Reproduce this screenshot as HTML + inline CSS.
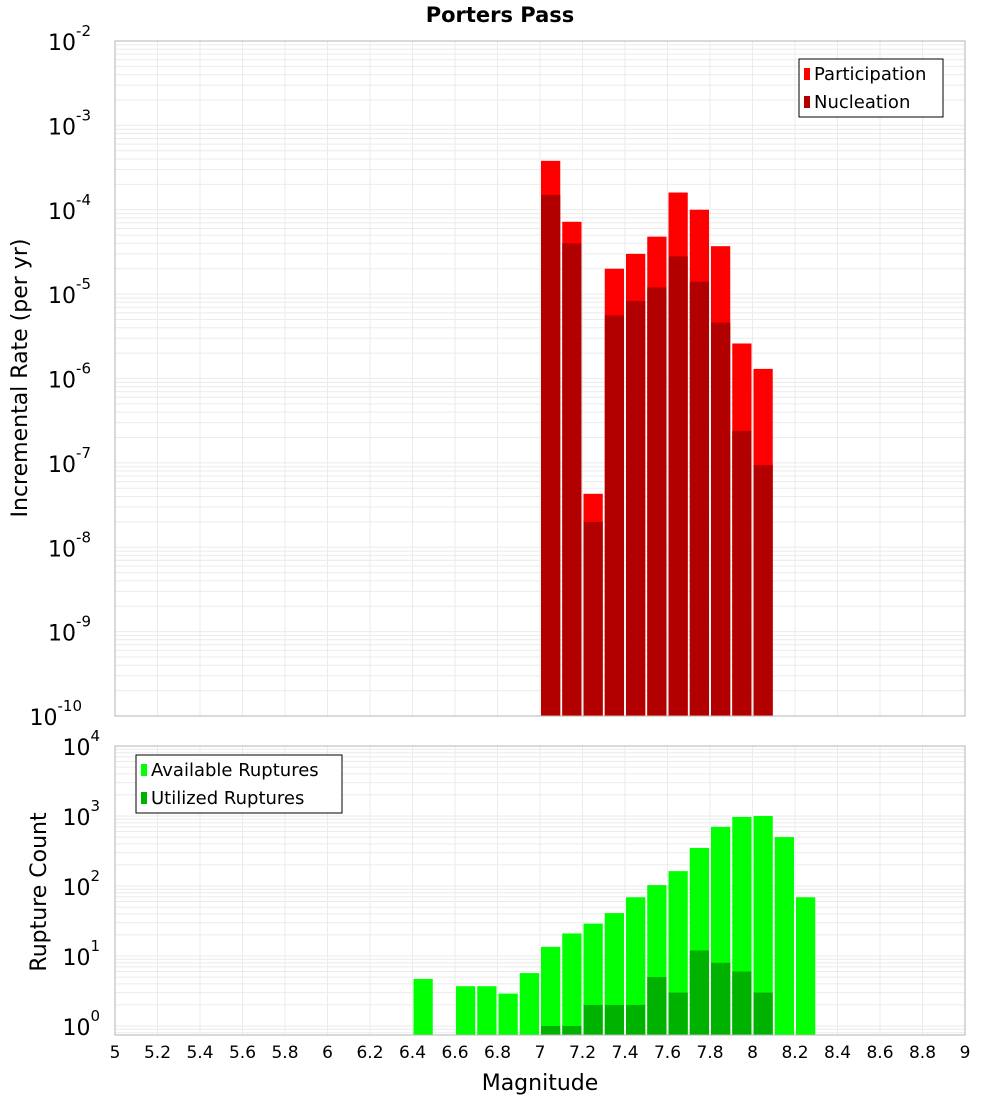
<!DOCTYPE html>
<html><head><meta charset="utf-8"><style>
body{margin:0;background:#fff;font-family:"Liberation Sans","DejaVu Sans",sans-serif}
</style></head><body>
<svg id="c" width="1000" height="1100" xmlns="http://www.w3.org/2000/svg" font-family="DejaVu Sans, Liberation Sans, sans-serif"></svg>
<script>
const mags=[7.0,7.1,7.2,7.3,7.4,7.5,7.6,7.7,7.8,7.9,8.0];
const participation=[3.8e-4,7.2e-5,4.3e-8,2.0e-5,3.0e-5,4.8e-5,1.6e-4,1.0e-4,3.7e-5,2.6e-6,1.3e-6];
const nucleation=[1.5e-4,4.0e-5,2.0e-8,5.6e-6,8.3e-6,1.2e-5,2.8e-5,1.4e-5,4.6e-6,2.4e-7,9.4e-8];
const availMags=[6.4,6.6,6.7,6.8,6.9,7.0,7.1,7.2,7.3,7.4,7.5,7.6,7.7,7.8,7.9,8.0,8.1,8.2];
const available=[4.7,3.7,3.7,2.9,5.7,13.5,21,29,41,69,103,163,350,700,970,1000,500,69];
const utilMags=[7.0,7.1,7.2,7.3,7.4,7.5,7.6,7.7,7.8,7.9,8.0];
const utilized=[1,1,2,2,2,5,3,12,8,6,3];
const xTicks=[5,5.2,5.4,5.6,5.8,6,6.2,6.4,6.6,6.8,7,7.2,7.4,7.6,7.8,8,8.2,8.4,8.6,8.8,9];
const topExps=[-2,-3,-4,-5,-6,-7,-8,-9,-10];
const botExps=[4,3,2,1,0];

const svg=document.getElementById('c');
const NS='http://www.w3.org/2000/svg';
function el(t,a,p){const e=document.createElementNS(NS,t);for(const k in a)e.setAttribute(k,a[k]);(p||svg).appendChild(e);return e;}
const X0=115,X1=965;
const x=m=>X0+(m-5)*(X1-X0)/4;
const T0=41,T1=716;
const yTop=v=>T0+(-2-Math.log10(v))*(T1-T0)/8;
const B0=746,B1=1035,BD=70;
const yBot=v=>Math.min(B1,B0+(4-Math.log10(v))*BD);

// frames & grids
function grid(y0,y1,yfn,decHi,decLo){
  for(let m=5;m<=9.001;m+=0.2){const l=el('line',{x1:x(m),x2:x(m),y1:y0,y2:y1,stroke:'#ebebeb','stroke-width':1});
  }
  for(let d=decLo;d<decHi;d++){for(let k=1;k<10;k++){const yy=yfn(k*Math.pow(10,d));if(yy<y0||yy>y1)continue;
    const l=el('line',{x1:X0,x2:X1,y1:yy,y2:yy,stroke:'#ebebeb','stroke-width':1});
    }}
}
el('rect',{x:X0,y:T0,width:X1-X0,height:T1-T0,fill:'#fff',});
el('rect',{x:X0,y:B0,width:X1-X0,height:B1-B0,fill:'#fff',});
grid(T0,T1,yTop,-2,-10);
grid(B0,B1,yBot,4,-1);

const bw=(X1-X0)/40;
mags.forEach((m,i)=>{
  const r=el('rect',{x:x(m)+1,y:yTop(participation[i]),width:bw-2,height:T1-yTop(participation[i]),fill:'#ff0000'});
  
});
mags.forEach((m,i)=>{
  const r=el('rect',{x:x(m)+1,y:yTop(nucleation[i]),width:bw-2,height:T1-yTop(nucleation[i]),fill:'#b20000'});
  
});
availMags.forEach((m,i)=>{
  const r=el('rect',{x:x(m)+1,y:yBot(available[i]),width:bw-2,height:B1-yBot(available[i]),fill:'#00ff00'});
  
});
utilMags.forEach((m,i)=>{
  const r=el('rect',{x:x(m)+1,y:yBot(utilized[i]),width:bw-2,height:B1-yBot(utilized[i]),fill:'#00b200'});
  
});
el('rect',{x:X0,y:T0,width:X1-X0,height:T1-T0,fill:'none',stroke:'#b4b4b4',});
el('rect',{x:X0,y:B0,width:X1-X0,height:B1-B0,fill:'none',stroke:'#b4b4b4',});

function expLabel(yy,e,name){
  const t=el('text',{x:X0-6,y:yy+9,'text-anchor':'end','font-size':22,fill:'#000'});
  
  t.textContent='10';
  const s=el('tspan',{dy:-14,'font-size':15},t);s.textContent=String(e);
  t.setAttribute('x',X0-6-(String(e).length*9));
}
topExps.forEach(e=>expLabel(yTop(Math.pow(10,e)),e,'top-y-tick-label'));
botExps.forEach(e=>expLabel(B0+(4-e)*BD,e,'bottom-y-tick-label'));
xTicks.forEach(m=>{
  const t=el('text',{x:x(m),y:1058,'text-anchor':'middle','font-size':17,fill:'#000'});
  
  t.textContent=String(m);
});
function txt(a,s,name){const t=el('text',a);t.textContent=s;return t;}
txt({x:500,y:22,'text-anchor':'middle','font-size':21,'font-weight':'bold'},'Porters Pass','chart-title');
txt({x:540,y:1090,'text-anchor':'middle','font-size':22},'Magnitude','x-axis-title');
txt({x:27,y:378,'text-anchor':'middle','font-size':22,transform:'rotate(-90 27 378)'},'Incremental Rate (per yr)','top-y-axis-title');
txt({x:46,y:892,'text-anchor':'middle','font-size':22,transform:'rotate(-90 46 892)'},'Rupture Count','bottom-y-axis-title');

// legends
function legend(x0,y0,w,items,name){
  const g=el('g',{});
  el('rect',{x:x0,y:y0,width:w,height:58,fill:'#fff',stroke:'#000'},g);
  items.forEach((it,i)=>{
    el('rect',{x:x0+5,y:y0+9+i*28,width:6,height:12,fill:it[1]},g);
    const t=el('text',{x:x0+15,y:y0+21+i*28,'font-size':18},g);t.textContent=it[0];
    
  });
}
legend(799,59,144,[['Participation','#ff0000'],['Nucleation','#b20000']],'top-legend');
legend(136,755,206,[['Available Ruptures','#00ff00'],['Utilized Ruptures','#00b200']],'bottom-legend');
</script>
</body></html>
